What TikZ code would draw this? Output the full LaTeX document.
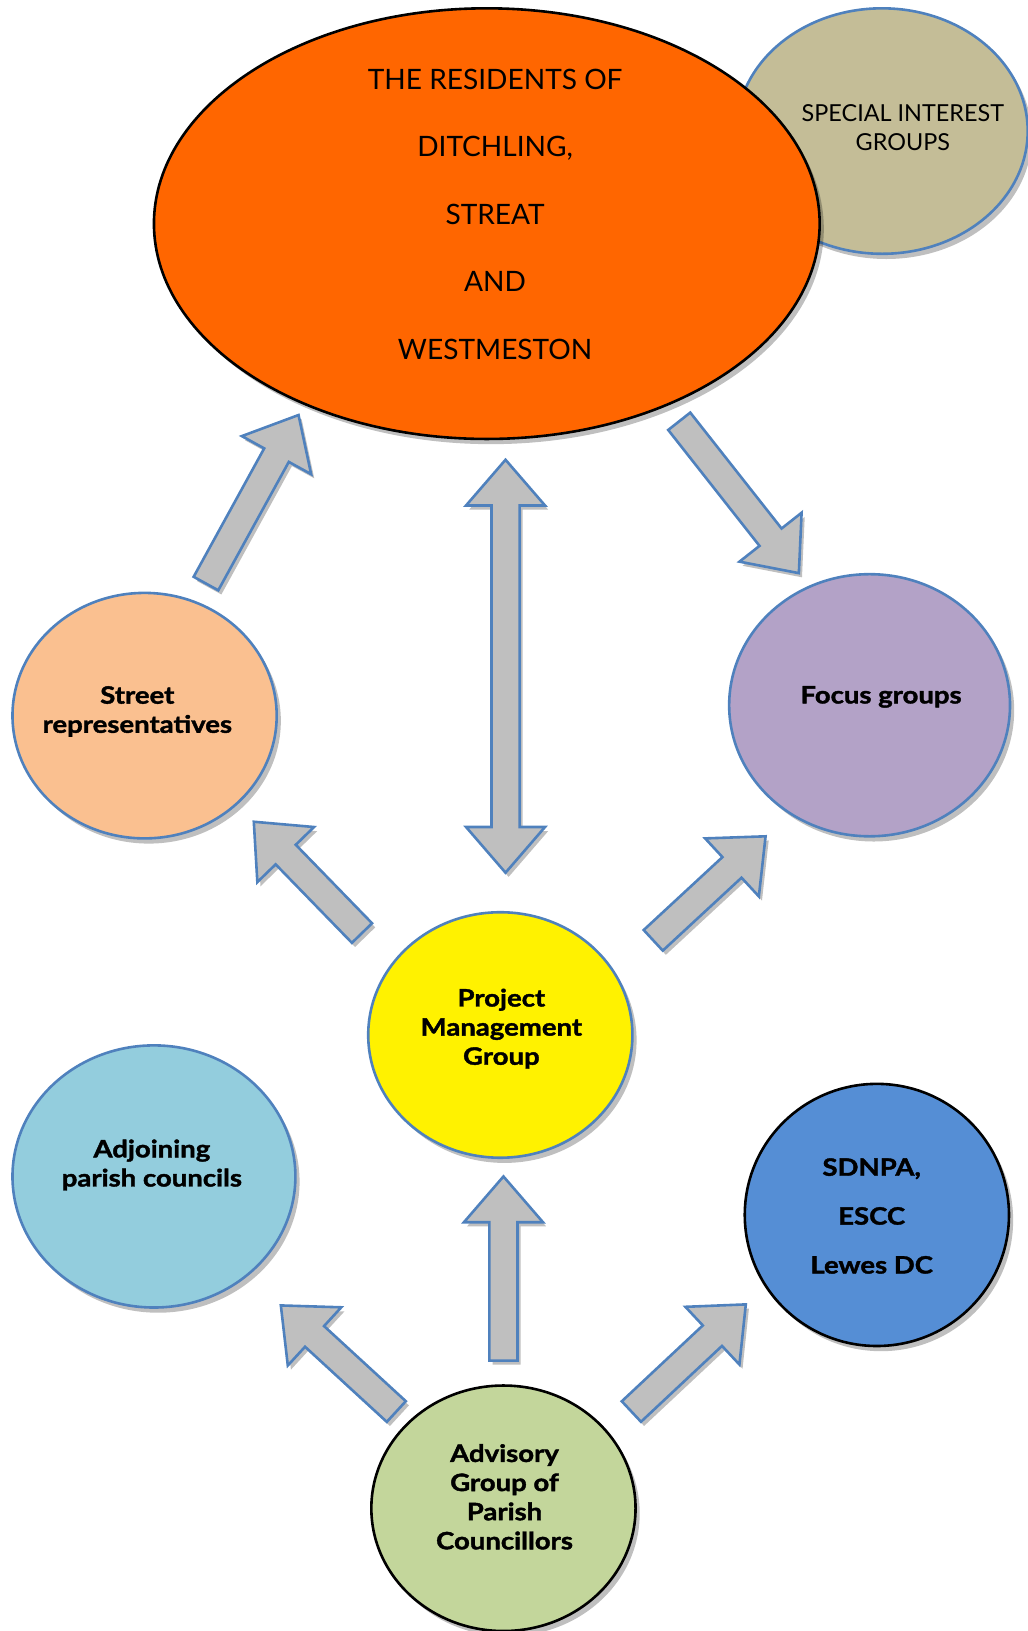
\documentclass[tikz,border=0pt]{standalone}
\usepackage{fontspec}
\setmainfont{Lato}[BoldFeatures={FakeBold=1.6,FakeStretch=1.15}]
\usetikzlibrary{calc,shadows,shapes.geometric}

\definecolor{resorange}{HTML}{FF6600}
\definecolor{sigtan}{HTML}{C4BD97}
\definecolor{streetpeach}{HTML}{FAC090}
\definecolor{focuslilac}{HTML}{B3A2C7}
\definecolor{adjblue}{HTML}{93CDDD}
\definecolor{agencyblue}{HTML}{558ED5}
\definecolor{advgreen}{HTML}{C3D69B}
\definecolor{rimblue}{HTML}{4F81BD}
\definecolor{arrowgrey}{HTML}{BFBFBF}

\tikzset{
  blob/.style={ellipse,inner sep=0pt,line width=2.5pt,draw=rimblue,
    drop shadow={shadow xshift=4pt,shadow yshift=-5pt,opacity=0.25,fill=black}},
  blocky/.style={fill=arrowgrey,draw=rimblue,line width=2.5pt,line join=miter,
    drop shadow={shadow xshift=3pt,shadow yshift=-4pt,opacity=0.25,fill=black}},
  lbl/.style={align=center,font=\bfseries\fontsize{23}{28}\selectfont}
}

\def\shafthalf{13.5pt}
\def\headhalf{38pt}
\def\headlen{44pt}

% block arrow from #1 to #2
\newcommand\blockarrow[2]{%
  \coordinate (neck) at ($(#2)!\headlen!(#1)$);
  \draw[blocky] ($(#1)!\shafthalf!90:(#2)$) -- ($(neck)!\shafthalf!90:(#2)$)
    -- ($(neck)!\headhalf!90:(#2)$) -- (#2) -- ($(neck)!\headhalf!-90:(#2)$)
    -- ($(neck)!\shafthalf!-90:(#2)$) -- ($(#1)!\shafthalf!-90:(#2)$) -- cycle;}

% block arrow with heads at both ends
\newcommand\blockdouble[2]{%
  \coordinate (neckb) at ($(#2)!\headlen!(#1)$);
  \coordinate (necka) at ($(#1)!\headlen!(#2)$);
  \draw[blocky] (#1) -- ($(necka)!\headhalf!-90:(#2)$) -- ($(necka)!\shafthalf!-90:(#2)$)
    -- ($(neckb)!\shafthalf!90:(#1)$) -- ($(neckb)!\headhalf!90:(#1)$) -- (#2)
    -- ($(neckb)!\headhalf!-90:(#1)$) -- ($(neckb)!\shafthalf!-90:(#1)$)
    -- ($(necka)!\shafthalf!90:(#2)$) -- ($(necka)!\headhalf!90:(#2)$) -- cycle;}

\begin{document}
\begin{tikzpicture}[x=1pt,y=-1pt]
  \useasboundingbox (0,0) rectangle (988,1568);

  % the groups
  \node[blob,fill=sigtan,minimum width=280pt,minimum height=236pt] (sig) at (848,126) {};
  \node[blob,fill=resorange,draw=black,minimum width=640pt,minimum height=414pt] (res) at (468,215) {};
  \node[blob,fill=streetpeach,minimum width=254pt,minimum height=236pt] (street) at (139,688) {};
  \node[blob,fill=focuslilac,minimum width=270pt,minimum height=252pt] (focus) at (836,678) {};
  \node[blob,fill=yellow,minimum width=254pt,minimum height=236pt] (pmg) at (481,995) {};
  \node[blob,fill=adjblue,minimum width=272pt,minimum height=252pt] (adj) at (148,1131) {};
  \node[blob,fill=agencyblue,draw=black,minimum width=254pt,minimum height=252pt] (agency) at (843,1168) {};
  \node[blob,fill=advgreen,draw=black,minimum width=254pt,minimum height=236pt] (adv) at (484,1450) {};

  \node[align=center,font=\fontsize{27}{65}\selectfont] (res-text) at ($(res)+(8,-9)$)
    {THE RESIDENTS OF\\DITCHLING,\\STREAT\\AND\\WESTMESTON};
  \node[align=center,font=\fontsize{22.5}{28}\selectfont] (sig-text) at ($(sig)+(20,-3)$)
    {SPECIAL INTEREST\\GROUPS};
  \node[lbl] (street-text) at ($(street)+(-7,-4)$) {Street\\representatives};
  \node[lbl] (focus-text) at ($(focus)+(11,-8)$) {Focus groups};
  \node[lbl] (pmg-text) at ($(pmg)+(1,-6)$) {Project\\Management\\Group};
  \node[lbl] (adj-text) at ($(adj)+(-2,-11)$) {Adjoining\\parish councils};
  \node[lbl,font=\bfseries\fontsize{23}{47}\selectfont] (agency-text) at ($(agency)+(-5,1)$)
    {SDNPA,\\ESCC\\Lewes DC};
  \node[lbl] (adv-text) at ($(adv)+(1,-11)$) {Advisory\\Group of\\Parish\\Councillors};

  % arrow ends
  \coordinate (street-out) at (198,561);
  \coordinate (res-in) at (287,399);
  \coordinate (res-out) at (653,405);
  \coordinate (focus-in) at (768,551);
  \coordinate (res-pmg) at (486,442);
  \coordinate (pmg-res) at (486,839);
  \coordinate (pmg-left) at (348,897);
  \coordinate (street-in) at (244,790);
  \coordinate (pmg-right) at (628,904);
  \coordinate (focus-low) at (736,804);
  \coordinate (adv-up) at (484,1308);
  \coordinate (pmg-in) at (484,1131);
  \coordinate (adv-left) at (381,1357);
  \coordinate (adj-in) at (270,1255);
  \coordinate (adv-right) at (607,1357);
  \coordinate (agency-in) at (717,1254);

  \blockarrow{street-out}{res-in}
  \blockarrow{res-out}{focus-in}
  \blockdouble{res-pmg}{pmg-res}
  \blockarrow{pmg-left}{street-in}
  \blockarrow{pmg-right}{focus-low}
  \blockarrow{adv-up}{pmg-in}
  \blockarrow{adv-left}{adj-in}
  \blockarrow{adv-right}{agency-in}
\end{tikzpicture}
\end{document}
